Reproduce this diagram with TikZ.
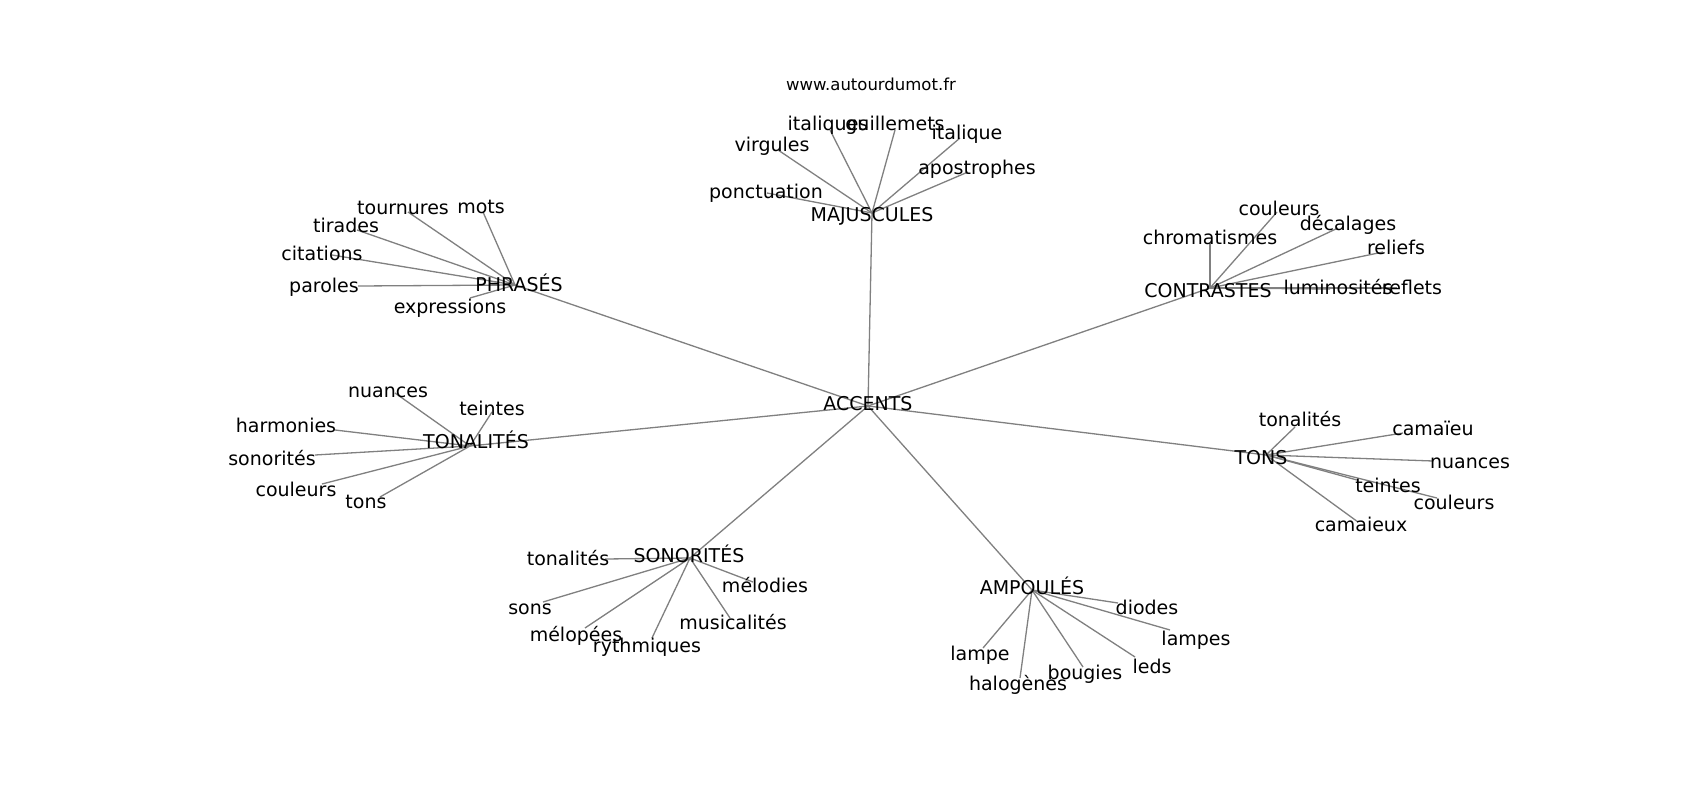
\documentclass[tikz,border=0pt]{standalone}
\usepackage{fontspec}
\setmainfont{DejaVu Sans}
\begin{document}
\begin{tikzpicture}[x=1pt,y=-1pt,
  lbl/.style={font=\fontsize{19}{19}\selectfont, inner sep=0pt, text height=0.73em, text depth=0pt, anchor=center, text=black, yshift=-3.5pt},
  ttl/.style={font=\fontsize{16.5}{16.5}\selectfont, inner sep=0pt, text height=0.73em, text depth=0pt, anchor=center, text=black, yshift=-3.5pt},
  link/.style={draw=gray, line width=1.3pt}]
\useasboundingbox[fill=white] (0,0) rectangle (1700,800);
% vertex points
\coordinate (pACC) at (868,406);
\coordinate (pMAJ) at (872,213);
\coordinate (pPHR) at (515,285);
\coordinate (pCON) at (1210,288);
\coordinate (pTNL) at (470,446);
\coordinate (pTONS) at (1266,455);
\coordinate (pSON) at (690,558);
\coordinate (pAMP) at (1032,590);
% MAJUSCULES leaves
\coordinate (p1) at (830,130);
\coordinate (p2) at (895,130);
\coordinate (p3) at (778,150);
\coordinate (p4) at (960,138);
\coordinate (p5) at (968,172);
\coordinate (p6) at (767,193);
% PHRASES leaves
\coordinate (p7) at (408,212);
\coordinate (p8) at (483,212);
\coordinate (p9) at (357,230);
\coordinate (p10) at (332,255);
\coordinate (p11) at (358,286);
\coordinate (p12) at (470,298);
% CONTRASTES leaves
\coordinate (p13) at (1277,212);
\coordinate (p14) at (1338,228);
\coordinate (p15) at (1210,243);
\coordinate (p16) at (1383,252);
\coordinate (p17) at (1330,289);
\coordinate (p18) at (1397,288);
% TONALITES leaves
\coordinate (p19) at (395,393);
\coordinate (p20) at (492,412);
\coordinate (p21) at (335,430);
\coordinate (p22) at (315,455);
\coordinate (p23) at (322,484);
\coordinate (p24) at (380,497);
% TONS leaves
\coordinate (p25) at (1295,427);
\coordinate (p26) at (1403,433);
\coordinate (p27) at (1433,461);
\coordinate (p28) at (1357,480);
\coordinate (p29) at (1437,498);
\coordinate (p30) at (1358,522);
% SONORITES leaves
\coordinate (p31) at (605,559);
\coordinate (p32) at (543,602);
\coordinate (p33) at (753,582);
\coordinate (p34) at (730,618);
\coordinate (p35) at (585,628);
\coordinate (p36) at (652,638);
% AMPOULES leaves
\coordinate (p37) at (1118,603);
\coordinate (p38) at (1170,630);
\coordinate (p39) at (983,648);
\coordinate (p40) at (1135,657);
\coordinate (p41) at (1083,667);
\coordinate (p42) at (1020,678);
% edges
\foreach \h in {pMAJ,pPHR,pCON,pTNL,pTONS,pSON,pAMP} \draw[link] (pACC) -- (\h);
\foreach \l in {p1,p2,p3,p4,p5,p6} \draw[link] (pMAJ) -- (\l);
\foreach \l in {p7,p8,p9,p10,p11,p12} \draw[link] (pPHR) -- (\l);
\foreach \l in {p13,p14,p15,p16,p17,p18} \draw[link] (pCON) -- (\l);
\foreach \l in {p19,p20,p21,p22,p23,p24} \draw[link] (pTNL) -- (\l);
\foreach \l in {p25,p26,p27,p28,p29,p30} \draw[link] (pTONS) -- (\l);
\foreach \l in {p31,p32,p33,p34,p35,p36} \draw[link] (pSON) -- (\l);
\foreach \l in {p37,p38,p39,p40,p41,p42} \draw[link] (pAMP) -- (\l);
% labels
\node[ttl] (title) at (871,83) {www.autourdumot.fr};
\node[lbl] (ACC) at (868,403) {ACCENTS};
\node[lbl] (MAJ) at (872,214) {MAJUSCULES};
\node[lbl] (PHR) at (519,284) {PHRASÉS};
\node[lbl] (CON) at (1208,290) {CONTRASTES};
\node[lbl] (TNL) at (476,441) {TONALITÉS};
\node[lbl] (TONS) at (1261,457) {TONS};
\node[lbl] (SON) at (689,555) {SONORITÉS};
\node[lbl] (AMP) at (1032,587) {AMPOULÉS};
\node[lbl] (l1) at (828,123) {italiques};
\node[lbl] (l2) at (895,123) {guillemets};
\node[lbl] (l3) at (772,144) {virgules};
\node[lbl] (l4) at (967,132) {italique};
\node[lbl] (l5) at (977,167) {apostrophes};
\node[lbl] (l6) at (766,191) {ponctuation};
\node[lbl] (l7) at (403,207) {tournures};
\node[lbl] (l8) at (481,206) {mots};
\node[lbl] (l9) at (346,225) {tirades};
\node[lbl] (l10) at (322,253) {citations};
\node[lbl] (l11) at (324,285) {paroles};
\node[lbl] (l12) at (450,306) {expressions};
\node[lbl] (l13) at (1279,208) {couleurs};
\node[lbl] (l14) at (1348,223) {décalages};
\node[lbl] (l15) at (1210,237) {chromatismes};
\node[lbl] (l16) at (1396,247) {reliefs};
\node[lbl] (l17) at (1338,287) {luminosités};
\node[lbl] (l18) at (1412,287) {reflets};
\node[lbl] (l19) at (388,390) {nuances};
\node[lbl] (l20) at (492,408) {teintes};
\node[lbl] (l21) at (286,425) {harmonies};
\node[lbl] (l22) at (272,458) {sonorités};
\node[lbl] (l23) at (296,489) {couleurs};
\node[lbl] (l24) at (366,501) {tons};
\node[lbl] (l25) at (1300,419) {tonalités};
\node[lbl] (l26) at (1433,428) {camaïeu};
\node[lbl] (l27) at (1470,461) {nuances};
\node[lbl] (l28) at (1388,485) {teintes};
\node[lbl] (l29) at (1454,502) {couleurs};
\node[lbl] (l30) at (1361,524) {camaieux};
\node[lbl] (l31) at (568,558) {tonalités};
\node[lbl] (l32) at (530,607) {sons};
\node[lbl] (l33) at (765,585) {mélodies};
\node[lbl] (l34) at (733,622) {musicalités};
\node[lbl] (l35) at (576,634) {mélopées};
\node[lbl] (l36) at (647,645) {rythmiques};
\node[lbl] (l37) at (1147,607) {diodes};
\node[lbl] (l38) at (1196,638) {lampes};
\node[lbl] (l39) at (980,653) {lampe};
\node[lbl] (l40) at (1152,666) {leds};
\node[lbl] (l41) at (1085,672) {bougies};
\node[lbl] (l42) at (1018,683) {halogènes};
\end{tikzpicture}
\end{document}
